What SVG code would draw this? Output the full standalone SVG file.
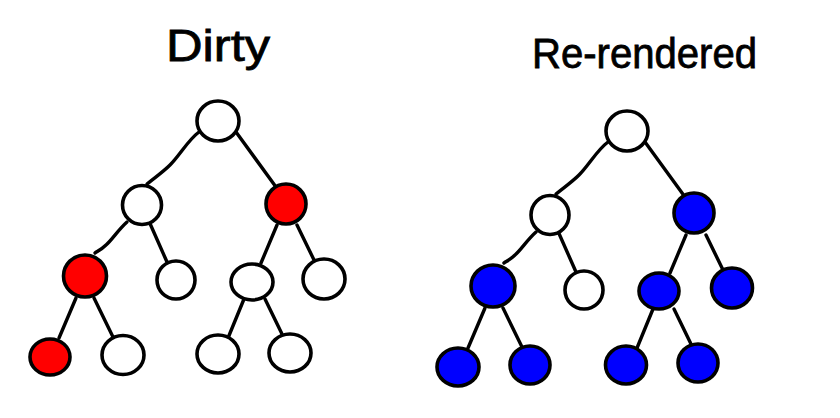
<svg xmlns="http://www.w3.org/2000/svg" width="840" height="418" viewBox="0 0 840 418">
<style>
.edge{fill:none;stroke:#000;stroke-width:3.4;stroke-linecap:round;stroke-linejoin:round}
.node{stroke:#000;stroke-width:3.6}
.w{fill:#fff}
.r{fill:#ff0000}
.b{fill:#0000ff}
.title{font-family:"Liberation Sans","DejaVu Sans",sans-serif;fill:#000;stroke:#000;stroke-width:0.8;font-weight:normal}
</style>
<rect width="840" height="418" fill="#fff"/>
<text class="title" x="166" y="61" font-size="44" textLength="104" lengthAdjust="spacingAndGlyphs">Dirty</text>
<text class="title" x="532" y="68" font-size="42" textLength="225" lengthAdjust="spacingAndGlyphs">Re-rendered</text>
<g id="connectors">
<g id="left-edges">
<path class="edge" d="M199,132 C188,140 180,155 170,165 C162,173 154,178 147,184"/>
<path class="edge" d="M236,132 L276,187"/>
<path class="edge" d="M127,222 C118,230 112,240 106,245 C102,249 98,251 95,253"/>
<path class="edge" d="M148,219 L167,262"/>
<path class="edge" d="M277,225 L261,263"/>
<path class="edge" d="M297,225 L315,262"/>
<path class="edge" d="M76,298 L59,338"/>
<path class="edge" d="M94,298 L113,337"/>
<path class="edge" d="M244,299 L228,338"/>
<path class="edge" d="M265,299 L282,334"/>
</g>
<g id="right-edges">
<path class="edge" d="M608,142 C597,150 589,165 579,175 C571,183 563,188 556,194"/>
<path class="edge" d="M645,142 L685,197"/>
<path class="edge" d="M536,232 C527,240 521,250 515,255 C511,259 507,261 504,263"/>
<path class="edge" d="M557,229 L576,272"/>
<path class="edge" d="M686,235 L670,273"/>
<path class="edge" d="M706,235 L724,272"/>
<path class="edge" d="M485,308 L468,348"/>
<path class="edge" d="M503,308 L522,347"/>
<path class="edge" d="M653,309 L637,348"/>
<path class="edge" d="M674,309 L691,344"/>
</g>
</g>
<g id="dirty-root"><ellipse class="node w" cx="218" cy="121" rx="21" ry="20"/></g>
<g id="dirty-l1"><ellipse class="node w" cx="142" cy="205" rx="19.5" ry="19.5"/></g>
<g id="dirty-r1"><ellipse class="node r" cx="286" cy="204" rx="20" ry="20"/></g>
<g id="dirty-l2a"><ellipse class="node r" cx="85" cy="276" rx="21.5" ry="21"/></g>
<g id="dirty-l2b"><ellipse class="node w" cx="176" cy="280" rx="19" ry="19"/></g>
<g id="dirty-r2a"><ellipse class="node w" cx="252" cy="282" rx="21" ry="18"/></g>
<g id="dirty-r2b"><ellipse class="node w" cx="324" cy="279" rx="21" ry="20"/></g>
<g id="dirty-l3a"><ellipse class="node r" cx="50" cy="357" rx="20" ry="18"/></g>
<g id="dirty-l3b"><ellipse class="node w" cx="123" cy="355" rx="21" ry="19.5"/></g>
<g id="dirty-r3a"><ellipse class="node w" cx="218" cy="354" rx="21" ry="19"/></g>
<g id="dirty-r3b"><ellipse class="node w" cx="290" cy="353" rx="21" ry="19"/></g>
<g id="rr-root"><ellipse class="node w" cx="627" cy="131" rx="21" ry="20"/></g>
<g id="rr-l1"><ellipse class="node w" cx="550" cy="215" rx="19" ry="19.5"/></g>
<g id="rr-r1"><ellipse class="node b" cx="694" cy="213" rx="20" ry="20"/></g>
<g id="rr-l2a"><ellipse class="node b" cx="493" cy="286" rx="22" ry="21"/></g>
<g id="rr-l2b"><ellipse class="node w" cx="584" cy="290" rx="19" ry="19"/></g>
<g id="rr-r2a"><ellipse class="node b" cx="659" cy="291" rx="20" ry="18"/></g>
<g id="rr-r2b"><ellipse class="node b" cx="732" cy="288" rx="20.5" ry="20"/></g>
<g id="rr-l3a"><ellipse class="node b" cx="458" cy="367" rx="21" ry="19"/></g>
<g id="rr-l3b"><ellipse class="node b" cx="530" cy="365" rx="20" ry="19"/></g>
<g id="rr-r3a"><ellipse class="node b" cx="626" cy="365" rx="20.5" ry="19"/></g>
<g id="rr-r3b"><ellipse class="node b" cx="698" cy="363" rx="20" ry="19"/></g>
</svg>
